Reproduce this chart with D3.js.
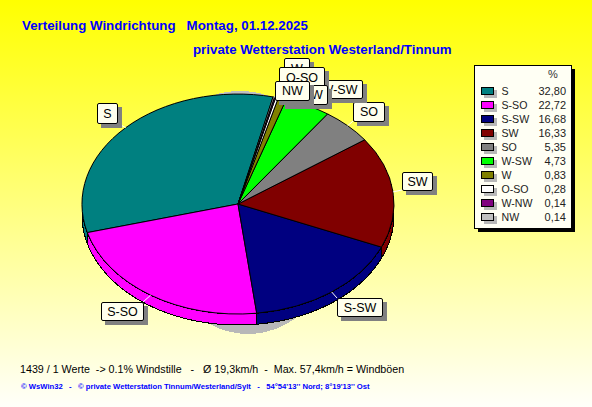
<!DOCTYPE html>
<html><head><meta charset="utf-8">
<script src="https://cdn.jsdelivr.net/npm/d3@7"></script>
<style>
html,body{margin:0;padding:0;background:#fff;overflow:hidden}
svg{display:block}
text{font-family:"Liberation Sans",Arial,sans-serif;white-space:pre}
</style></head><body>
<svg id="c" width="592" height="407"></svg>
<script>
const categories=["S","S-SO","S-SW","SW","SO","W-SW","W","O-SO","W-NW","NW"];
const percents=[32.80,22.72,16.68,16.33,5.35,4.73,0.83,0.28,0.14,0.14];
const percentLabels=["32,80","22,72","16,68","16,33","5,35","4,73","0,83","0,28","0,14","0,14"];
const sliceColors=["#008080","#ff00ff","#000080","#800000","#808080","#00ff00","#808000","#ffffff","#800080","#c0c0c0"];
const titleLine1="Verteilung Windrichtung   Montag, 01.12.2025";
const titleLine2="private Wetterstation Westerland/Tinnum";
const footerLine1="1439 / 1 Werte  -> 0.1% Windstille   -   Ø 19,3km/h  -  Max. 57,4km/h = Windböen";
const footerLine2="© WsWin32   -   © private Wetterstation Tinnum/Westerland/Sylt   -   54°54'13'' Nord; 8°19'13'' Ost";

// label callout boxes [x0,y0,x1,y1], same order as categories
const calloutBoxes=[[97,103,117,123],[101,302,143,320],[337,298,382,316],[402,172,432,190],[353,102,384,121],[316,80,362,98],[284,58,309,78],[279,67,324,87],[281,85,327,104],[275,81,309,100]];

const cx=238,cy=204,rx=156,ry=110,depth=11,startDeg=13;
const svg=d3.select("#c");
const defs=svg.append("defs");
const g=defs.append("linearGradient").attr("id","bg").attr("x1",0).attr("y1",0).attr("x2",0).attr("y2",1);
g.append("stop").attr("offset",0).attr("stop-color","#ffff00");
g.append("stop").attr("offset",1).attr("stop-color","#fffffa");
svg.append("rect").attr("width",592).attr("height",407).attr("fill","url(#bg)");

const X=t=>cx+rx*Math.sin(t), Y=t=>cy-ry*Math.cos(t);
const rad=d=>d*Math.PI/180;
const pie=d3.pie().sort(null).startAngle(rad(startDeg)).endAngle(rad(startDeg-360));
const arcs=pie(percents);

// shadow of the pie
svg.append("ellipse").attr("cx",248).attr("cy",214).attr("rx",96).attr("ry",120).attr("fill","#b8b8b8").attr("shape-rendering","crispEdges");
svg.append("ellipse").attr("cx",240).attr("cy",204).attr("rx",100).attr("ry",113).attr("fill","#c0c0c0").attr("shape-rendering","crispEdges");

// side wall
const walls=svg.append("g").attr("shape-rendering","crispEdges");
arcs.forEach((a,i)=>{
  const lo=Math.min(a.startAngle,a.endAngle),hi=Math.max(a.startAngle,a.endAngle);
  [-2,0,2].forEach(k=>{
    const f0=Math.PI/2+k*Math.PI,f1=3*Math.PI/2+k*Math.PI;
    const s=Math.max(lo,f0),e=Math.min(hi,f1);
    if(e<=s)return;
    const n=Math.max(2,Math.ceil((e-s)/0.02));
    const ts=d3.range(n+1).map(j=>s+(e-s)*j/n);
    const top=ts.map(t=>[X(t),Y(t)]);
    const bot=ts.slice().reverse().map(t=>[X(t),Y(t)+depth]);
    walls.append("path").attr("d",d3.line()(top.concat(bot))+"Z")
      .attr("fill",sliceColors[i]).attr("stroke","#000").attr("stroke-width",1);
  });
});

// top face
const arcGen=d3.arc().innerRadius(0).outerRadius(1);
svg.append("g").attr("transform",`translate(${cx},${cy}) scale(${rx},${ry})`)
  .selectAll("path").data(arcs).join("path")
  .attr("d",arcGen).attr("fill",(d,i)=>sliceColors[i])
  .attr("stroke","#000").attr("stroke-width",1)
  .attr("vector-effect","non-scaling-stroke").attr("shape-rendering","crispEdges");

// callouts
const labelFont=12.5;
const callouts=svg.append("g");
arcs.forEach((a,i)=>{
  const [x0,y0,x1,y1]=calloutBoxes[i];
  const t=(a.startAngle+a.endAngle)/2;
  const px=X(t),py=Y(t);
  const bx=Math.max(x0,Math.min(x1,px)),by=Math.max(y0,Math.min(y1,py));
  callouts.append("line").attr("x1",px).attr("y1",py).attr("x2",bx).attr("y2",by)
    .attr("stroke","#fff").attr("stroke-width",1);
  callouts.append("rect").attr("x",x0+4).attr("y",y0+4).attr("width",x1-x0+1).attr("height",y1-y0+1).attr("fill","#808080");
  callouts.append("rect").attr("x",x0+.5).attr("y",y0+.5).attr("width",x1-x0).attr("height",y1-y0).attr("rx",1.5)
    .attr("fill","#ffffee").attr("stroke","#000").attr("stroke-width",1);
  callouts.append("text").attr("x",(x0+x1)/2+.5).attr("y",(y0+y1)/2+4.5).attr("text-anchor","middle")
    .attr("font-size",labelFont).attr("fill","#000").text(categories[i]);
});

// legend
const lx0=474,ly0=65,lx1=571,ly1=228;
svg.append("rect").attr("x",lx0+4).attr("y",ly0+4).attr("width",lx1-lx0).attr("height",ly1-ly0).attr("fill","#000");
svg.append("rect").attr("x",lx0+.5).attr("y",ly0+.5).attr("width",lx1-lx0).attr("height",ly1-ly0)
  .attr("fill","#fffff4").attr("stroke","#000");
svg.append("text").attr("x",553).attr("y",78).attr("text-anchor","middle").attr("font-size",11).attr("fill","#333").text("%");
const rowY=d3.scalePoint().domain(categories).range([91,217]);
categories.forEach((c,i)=>{
  const y=rowY(c);
  svg.append("rect").attr("x",484).attr("y",y-1).attr("width",13).attr("height",8).attr("fill","#b8b8b8");
  svg.append("rect").attr("x",481.5).attr("y",y-3.5).attr("width",12).attr("height",7).attr("fill",sliceColors[i]).attr("stroke","#000");
  svg.append("text").attr("x",501.5).attr("y",y+4).attr("font-size",10.6).attr("fill","#222").text(c);
  svg.append("text").attr("x",566).attr("y",y+4).attr("text-anchor","end").attr("font-size",11).attr("fill","#222").text(percentLabels[i]);
});

// titles and footer
svg.append("text").attr("x",22).attr("y",30).attr("font-size",13.3).attr("font-weight","bold").attr("fill","#0000ff").text(titleLine1);
svg.append("text").attr("x",193).attr("y",54).attr("font-size",13.3).attr("font-weight","bold").attr("fill","#0000ff").text(titleLine2);
svg.append("text").attr("x",20).attr("y",373).attr("font-size",10.7).attr("fill","#000").text(footerLine1);
svg.append("text").attr("x",21).attr("y",389).attr("font-size",7.67).attr("font-weight","bold").attr("fill","#0000ff").text(footerLine2);
</script>
</body></html>
